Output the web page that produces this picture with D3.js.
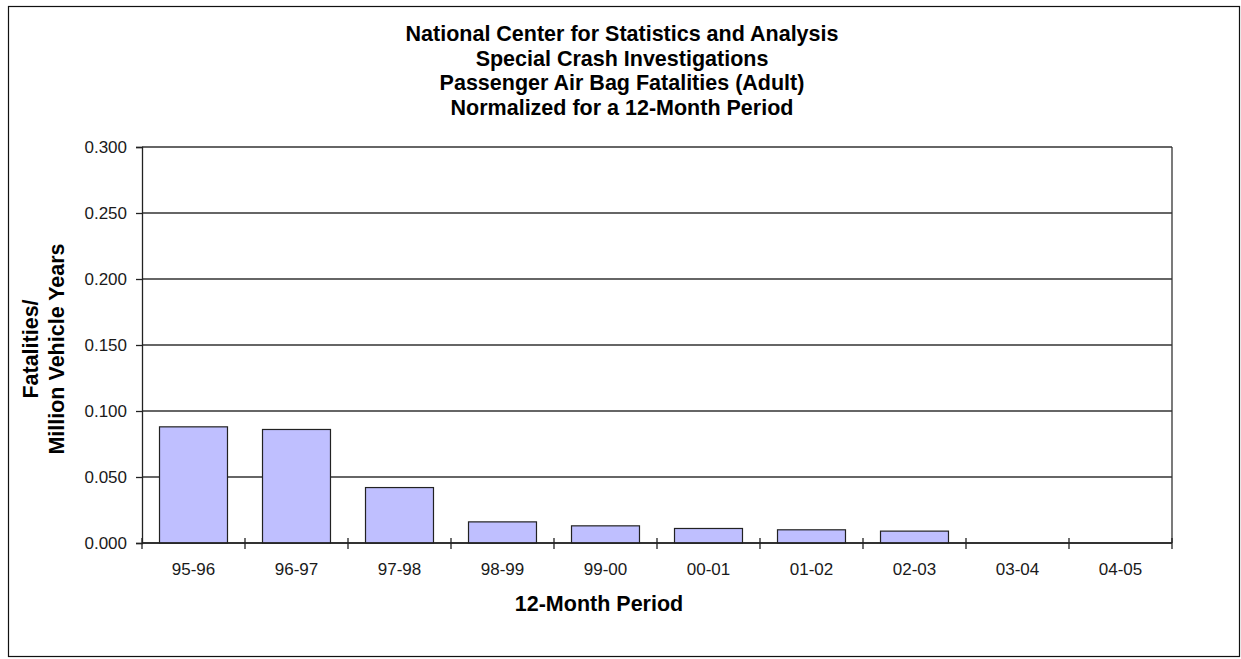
<!DOCTYPE html>
<html>
<head>
<meta charset="utf-8">
<script src="https://d3js.org/d3.v7.min.js"></script>
<style>
  body { margin: 0; background: #fff; }
  text { font-family: Arial, "Liberation Sans", sans-serif; fill: #000; }
  .tick-label { font-size: 17px; fill: #1a1a1a; }
  .title { font-size: 21.5px; font-weight: bold; }
</style>
</head>
<body>
<div id="chartHere"></div>
<script>
// data
var periods = ['95-96', '96-97', '97-98', '98-99', '99-00', '00-01', '01-02', '02-03', '03-04', '04-05'];
var fatalityRates = [0.088, 0.086, 0.042, 0.016, 0.013, 0.011, 0.010, 0.009, null, null];
var yTicks = [0, 0.05, 0.10, 0.15, 0.20, 0.25, 0.30];
var titleLines = [
  'National Center for Statistics and Analysis',
  'Special Crash Investigations',
  'Passenger Air Bag Fatalities (Adult)',
  'Normalized for a 12-Month Period'
];
var yTitleLines = ['Fatalities/', 'Million Vehicle Years'];
var xTitle = '12-Month Period';

var dims = { width: 1241, height: 659 };
var plot = { left: 142, right: 1172, top: 147, bottom: 543 };

var svg = d3.select('#chartHere').append('svg')
  .attr('width', dims.width)
  .attr('height', dims.height);

// outer chart border
svg.append('rect')
  .attr('x', 8.5).attr('y', 6.5)
  .attr('width', 1231).attr('height', 650)
  .attr('fill', '#fff')
  .attr('stroke', '#111')
  .attr('stroke-width', 1.2);

var xScale = d3.scaleBand()
  .domain(periods)
  .range([plot.left, plot.right])
  .paddingInner(0.34)
  .paddingOuter(0.17);

var yScale = d3.scaleLinear()
  .domain([0, 0.3])
  .range([plot.bottom, plot.top]);

// gridlines
svg.selectAll('line.grid')
  .data(yTicks)
  .enter().append('line')
  .attr('class', 'grid')
  .attr('x1', plot.left).attr('x2', plot.right)
  .attr('y1', function (d) { return yScale(d); })
  .attr('y2', function (d) { return yScale(d); })
  .attr('stroke', '#333')
  .attr('stroke-width', 1.3);

// right edge of plot area
svg.append('line')
  .attr('x1', plot.right).attr('x2', plot.right)
  .attr('y1', plot.top).attr('y2', plot.bottom)
  .attr('stroke', '#333').attr('stroke-width', 1.3);

// bars
svg.selectAll('rect.bar')
  .data(periods.map(function (p, i) { return { p: p, v: fatalityRates[i] }; })
    .filter(function (d) { return d.v != null; }))
  .enter().append('rect')
  .attr('class', 'bar')
  .attr('x', function (d) { return xScale(d.p); })
  .attr('width', xScale.bandwidth())
  .attr('y', function (d) { return yScale(d.v); })
  .attr('height', function (d) { return yScale(0) - yScale(d.v); })
  .attr('fill', '#bfbfff')
  .attr('stroke', '#222')
  .attr('stroke-width', 1.2);

// y axis
var yAxis = d3.axisLeft(yScale)
  .tickValues(yTicks)
  .tickSize(6)
  .tickPadding(9)
  .tickFormat(d3.format('.3f'));

var gy = svg.append('g')
  .attr('transform', 'translate(' + plot.left + ',0)')
  .call(yAxis);
gy.select('.domain').attr('stroke', '#222').attr('stroke-width', 1.3);
gy.selectAll('.tick line').attr('stroke', '#222').attr('stroke-width', 1.3);
gy.selectAll('.tick text').attr('class', 'tick-label').attr('font-size', null).attr('font-family', null);

// x axis: line, cross tick marks on category boundaries, labels
svg.append('line')
  .attr('x1', plot.left).attr('x2', plot.right)
  .attr('y1', plot.bottom).attr('y2', plot.bottom)
  .attr('stroke', '#222').attr('stroke-width', 1.3);

var step = xScale.step();
var boundaries = d3.range(periods.length + 1).map(function (i) { return plot.left + i * step; });
svg.selectAll('line.xtick')
  .data(boundaries)
  .enter().append('line')
  .attr('class', 'xtick')
  .attr('x1', function (d) { return d; }).attr('x2', function (d) { return d; })
  .attr('y1', plot.bottom - 5).attr('y2', plot.bottom + 6)
  .attr('stroke', '#222').attr('stroke-width', 1.3);

svg.selectAll('text.xlabel')
  .data(periods)
  .enter().append('text')
  .attr('class', 'tick-label')
  .attr('x', function (d) { return xScale(d) + xScale.bandwidth() / 2; })
  .attr('y', 575)
  .attr('text-anchor', 'middle')
  .text(function (d) { return d; });

// titles
svg.selectAll('text.chartTitle')
  .data(titleLines)
  .enter().append('text')
  .attr('class', 'title')
  .attr('x', 622)
  .attr('y', function (d, i) { return 41 + i * 24.5; })
  .attr('text-anchor', 'middle')
  .text(function (d) { return d; });

svg.append('text')
  .attr('class', 'title')
  .attr('x', 599)
  .attr('y', 611)
  .attr('text-anchor', 'middle')
  .text(xTitle);

svg.selectAll('text.yTitle')
  .data(yTitleLines)
  .enter().append('text')
  .attr('class', 'title')
  .attr('transform', function (d, i) { return 'translate(' + (38 + i * 26) + ',349) rotate(-90)'; })
  .attr('text-anchor', 'middle')
  .text(function (d) { return d; });
</script>
</body>
</html>
